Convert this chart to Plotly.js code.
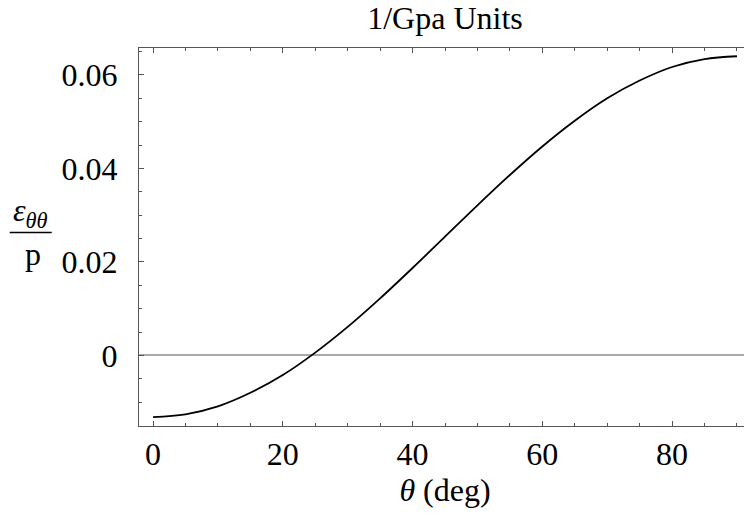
<!DOCTYPE html>
<html>
<head>
<meta charset="utf-8">
<script src="https://cdn.plot.ly/plotly-3.0.1.min.js"></script>
<style>
html,body{margin:0;padding:0;overflow:hidden;background:#fff;width:744px;height:518px;}
#chart{width:761px;height:518px;}
</style>
</head>
<body>
<div id="chart"></div>
<script>
// Data
const thetaDeg = [0, 5, 10, 15, 20, 25, 30, 35, 40, 45, 50, 55, 60, 65, 70, 75, 80, 85, 90];
const strainPerP = [-0.0132, -0.0126, -0.0109, -0.0080, -0.0042, 0.0006, 0.0061, 0.0122, 0.0187, 0.0254,
                    0.0321, 0.0386, 0.0447, 0.0502, 0.0550, 0.0588, 0.0617, 0.0634, 0.0640];
const xTickVals = [0, 20, 40, 60, 80];
const xTickText = ['0', '20', '40', '60', '80'];
const yTickVals = [0, 0.02, 0.04, 0.06];
const yTickText = ['0', '0.02', '0.04', '0.06'];

const serif = 'Liberation Serif, Times New Roman, serif';
const frameColor = '#555';
const fs = 32;

const trace = {
  x: thetaDeg, y: strainPerP, type: 'scatter', mode: 'lines',
  line: {color: '#000', width: 1.8, shape: 'spline', smoothing: 1},
  hoverinfo: 'skip', showlegend: false
};

const layout = {
  width: 761, height: 518,
  margin: {l: 139, r: 10, t: 48, b: 92},
  paper_bgcolor: '#fff', plot_bgcolor: '#fff',
  font: {family: serif, color: '#000', size: fs},
  title: {text: '1/Gpa Units', font: {family: serif, size: fs, color: '#000'},
          x: 0.5, xref: 'paper', xanchor: 'center', y: 1 - 18/518, yref: 'container', yanchor: 'middle'},
  xaxis: {
    range: [-2.16, 92.16], showgrid: false, zeroline: false,
    showline: true, linecolor: frameColor, linewidth: 1, mirror: 'ticks',
    ticks: 'inside', ticklen: 5, tickwidth: 1, tickcolor: frameColor,
    tickvals: xTickVals, ticktext: xTickText, ticklabelstandoff: 0,
    tickfont: {family: serif, size: fs, color: '#000'},
    minor: {dtick: 5, tick0: 0, ticks: 'inside', ticklen: 3, tickwidth: 1, tickcolor: frameColor, showgrid: false},
    title: {text: '<i>θ</i> (deg)', font: {family: serif, size: fs, color: '#000'}, standoff: 0}
  },
  yaxis: {
    range: [-0.0151, 0.06576], showgrid: false,
    zeroline: true, zerolinecolor: '#aaa', zerolinewidth: 2,
    showline: true, linecolor: frameColor, linewidth: 1, mirror: 'ticks',
    ticks: 'inside', ticklen: 5, tickwidth: 1, tickcolor: frameColor,
    tickvals: yTickVals, ticktext: yTickText, ticklabelstandoff: 14,
    tickfont: {family: serif, size: fs, color: '#000'},
    minor: {dtick: 0.005, tick0: 0, ticks: 'inside', ticklen: 3, tickwidth: 1, tickcolor: frameColor, showgrid: false}
  },
  annotations: [
    {xref: 'paper', yref: 'paper', x: (31 - 139.3)/612, y: (426.3 - 213)/378, xanchor: 'center', yanchor: 'middle',
     text: '<i>ε</i><sub><i>θθ</i></sub>', showarrow: false, font: {family: serif, size: fs, color: '#000'}},
    {xref: 'paper', yref: 'paper', x: (33 - 139.3)/612, y: (426.3 - 254)/378, xanchor: 'center', yanchor: 'middle',
     text: 'p', showarrow: false, font: {family: serif, size: fs, color: '#000'}}
  ],
  shapes: [
    {type: 'line', xref: 'paper', yref: 'paper', x0: (10 - 139.3)/612, x1: (52 - 139.3)/612,
     y0: (426.3 - 232.7)/378, y1: (426.3 - 232.7)/378, line: {color: '#000', width: 1.5}}
  ]
};

Plotly.newPlot('chart', [trace], layout, {staticPlot: true, displayModeBar: false});
</script>
</body>
</html>
